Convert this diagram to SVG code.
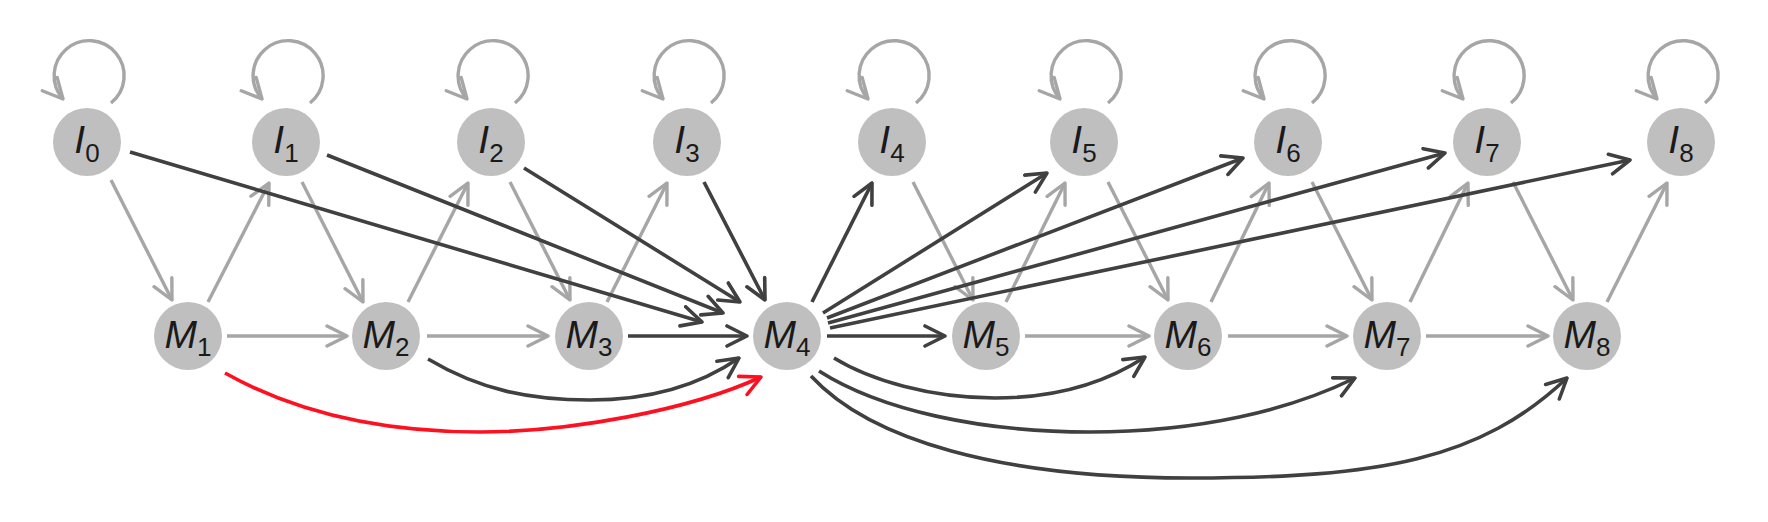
<svg xmlns="http://www.w3.org/2000/svg" width="1768" height="522" viewBox="0 0 1768 522">
<style>
.g{fill:none;stroke:#a6a6a6;stroke-width:3.4;marker-end:url(#ag)}
.d{fill:none;stroke:#404040;stroke-width:3.6;marker-end:url(#ad)}
.r{fill:none;stroke:#ff1020;stroke-width:3.6;marker-end:url(#ar)}
.n circle{fill:#bfbfbf}
.n text{font-family:"Liberation Sans",Arial,sans-serif;font-size:39px;fill:#1a1a1a;text-anchor:middle}
.n .v{font-style:italic}
.n .s{font-size:26px}
</style>
<defs>
<marker id="ag" viewBox="-22 -12 24 24" refX="0" refY="0" markerWidth="24" markerHeight="24" markerUnits="userSpaceOnUse" orient="auto"><path d="M-20,-10 L0,0 L-20,10" fill="none" stroke="#a6a6a6" stroke-width="3.4" stroke-linecap="round" stroke-linejoin="round"/></marker>
<marker id="ad" viewBox="-22 -12 24 24" refX="0" refY="0" markerWidth="24" markerHeight="24" markerUnits="userSpaceOnUse" orient="auto"><path d="M-20,-10 L0,0 L-20,10" fill="none" stroke="#404040" stroke-width="3.6" stroke-linecap="round" stroke-linejoin="round"/></marker>
<marker id="ar" viewBox="-22 -12 24 24" refX="0" refY="0" markerWidth="24" markerHeight="24" markerUnits="userSpaceOnUse" orient="auto"><path d="M-20,-10 L0,0 L-20,10" fill="none" stroke="#ff1020" stroke-width="3.6" stroke-linecap="round" stroke-linejoin="round"/></marker>
</defs>
<rect width="1768" height="522" fill="#ffffff"/>
<g id="connectors">
<path class="g" d="M111,103 A35,35 0 1 0 63,99"/>
<path class="g" d="M310,103 A35,35 0 1 0 262,99"/>
<path class="g" d="M515,103 A35,35 0 1 0 467,99"/>
<path class="g" d="M711,103 A35,35 0 1 0 663,99"/>
<path class="g" d="M916,103 A35,35 0 1 0 868,99"/>
<path class="g" d="M1108,103 A35,35 0 1 0 1060,99"/>
<path class="g" d="M1312,103 A35,35 0 1 0 1264,99"/>
<path class="g" d="M1511,103 A35,35 0 1 0 1463,99"/>
<path class="g" d="M1705,103 A35,35 0 1 0 1657,99"/>
<path class="g" d="M111,180 L172,300"/>
<path class="g" d="M208,302 L269,183"/>
<path class="g" d="M302,182 L363,302"/>
<path class="g" d="M408,302 L468,183"/>
<path class="g" d="M510,182 L570,300"/>
<path class="g" d="M607,302 L667,183"/>
<path class="g" d="M227,336 L347,336"/>
<path class="g" d="M427,336 L548,336"/>
<path class="g" d="M913,182 L973,300"/>
<path class="g" d="M1006,302 L1065,183"/>
<path class="g" d="M1108,182 L1168,300"/>
<path class="g" d="M1211,302 L1269,183"/>
<path class="g" d="M1312,182 L1372,300"/>
<path class="g" d="M1410,302 L1468,183"/>
<path class="g" d="M1513,182 L1573,300"/>
<path class="g" d="M1607,302 L1667,183"/>
<path class="g" d="M1025,336 L1149,336"/>
<path class="g" d="M1228,336 L1347,336"/>
<path class="g" d="M1426,336 L1548,336"/>
<path class="d" d="M130,152 L702,322"/>
<path class="d" d="M327,155 L723,313"/>
<path class="d" d="M524,168 L740,302"/>
<path class="d" d="M704,182 L765,300"/>
<path class="d" d="M628,336 L747,336"/>
<path class="d" d="M812,302 L872,183"/>
<path class="d" d="M823,313 L1047,173"/>
<path class="d" d="M827,318 L1243,158"/>
<path class="d" d="M828,323 L1445,153"/>
<path class="d" d="M830,328 L1630,160"/>
<path class="d" d="M827,336 L945,336"/>
<path class="d" d="M428,359 C480,390 530,400 590,400 S700,385 739,358"/>
<path class="d" d="M834,358 C870,380 930,398 995,398 S1110,380 1145,357"/>
<path class="d" d="M819,371 C880,410 980,432 1090,432 S1290,410 1355,378"/>
<path class="d" d="M811,376 C870,440 1000,478 1190,478 S1480,460 1567,378"/>
<path class="r" d="M225,373 C300,415 390,432 480,432 S690,410 761,377"/>
</g>
<g id="I0" class="n"><circle cx="87" cy="142" r="34"/><text x="87" y="153"><tspan class="v">I</tspan><tspan class="s" dy="9">0</tspan></text></g>
<g id="I1" class="n"><circle cx="286" cy="142" r="34"/><text x="286" y="153"><tspan class="v">I</tspan><tspan class="s" dy="9">1</tspan></text></g>
<g id="I2" class="n"><circle cx="491" cy="142" r="34"/><text x="491" y="153"><tspan class="v">I</tspan><tspan class="s" dy="9">2</tspan></text></g>
<g id="I3" class="n"><circle cx="687" cy="142" r="34"/><text x="687" y="153"><tspan class="v">I</tspan><tspan class="s" dy="9">3</tspan></text></g>
<g id="I4" class="n"><circle cx="892" cy="142" r="34"/><text x="892" y="153"><tspan class="v">I</tspan><tspan class="s" dy="9">4</tspan></text></g>
<g id="I5" class="n"><circle cx="1084" cy="142" r="34"/><text x="1084" y="153"><tspan class="v">I</tspan><tspan class="s" dy="9">5</tspan></text></g>
<g id="I6" class="n"><circle cx="1288" cy="142" r="34"/><text x="1288" y="153"><tspan class="v">I</tspan><tspan class="s" dy="9">6</tspan></text></g>
<g id="I7" class="n"><circle cx="1487" cy="142" r="34"/><text x="1487" y="153"><tspan class="v">I</tspan><tspan class="s" dy="9">7</tspan></text></g>
<g id="I8" class="n"><circle cx="1681" cy="142" r="34"/><text x="1681" y="153"><tspan class="v">I</tspan><tspan class="s" dy="9">8</tspan></text></g>
<g id="M1" class="n"><circle cx="188" cy="336" r="34"/><text x="188" y="348"><tspan class="v">M</tspan><tspan class="s" dy="8">1</tspan></text></g>
<g id="M2" class="n"><circle cx="386" cy="336" r="34"/><text x="386" y="348"><tspan class="v">M</tspan><tspan class="s" dy="8">2</tspan></text></g>
<g id="M3" class="n"><circle cx="589" cy="336" r="34"/><text x="589" y="348"><tspan class="v">M</tspan><tspan class="s" dy="8">3</tspan></text></g>
<g id="M4" class="n"><circle cx="787" cy="336" r="34"/><text x="787" y="348"><tspan class="v">M</tspan><tspan class="s" dy="8">4</tspan></text></g>
<g id="M5" class="n"><circle cx="986" cy="336" r="34"/><text x="986" y="348"><tspan class="v">M</tspan><tspan class="s" dy="8">5</tspan></text></g>
<g id="M6" class="n"><circle cx="1188" cy="336" r="34"/><text x="1188" y="348"><tspan class="v">M</tspan><tspan class="s" dy="8">6</tspan></text></g>
<g id="M7" class="n"><circle cx="1387" cy="336" r="34"/><text x="1387" y="348"><tspan class="v">M</tspan><tspan class="s" dy="8">7</tspan></text></g>
<g id="M8" class="n"><circle cx="1587" cy="336" r="34"/><text x="1587" y="348"><tspan class="v">M</tspan><tspan class="s" dy="8">8</tspan></text></g>
</svg>
